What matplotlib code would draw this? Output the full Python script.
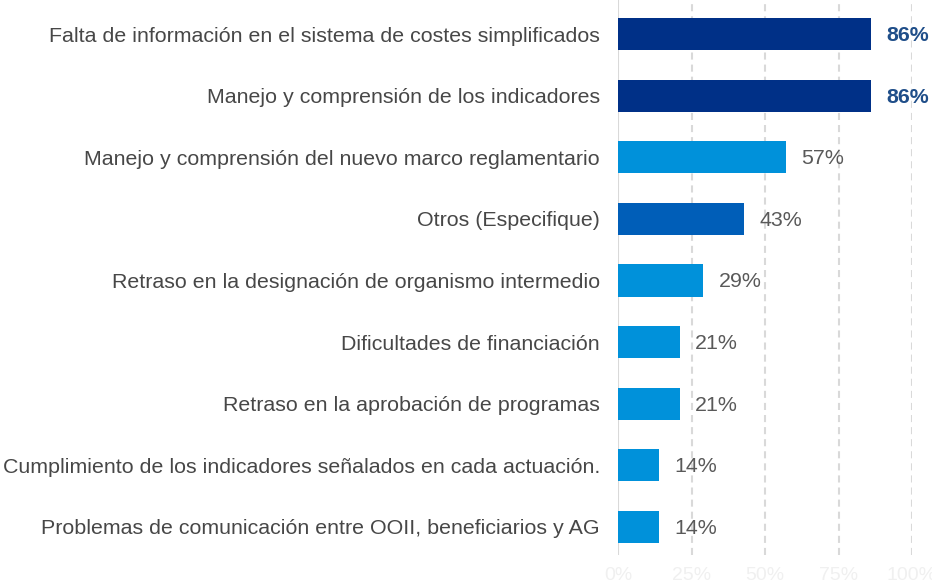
import matplotlib
matplotlib.use("Agg")
import matplotlib.pyplot as plt

categories = [
    "Falta de información en el sistema de costes simplificados",
    "Manejo y comprensión de los indicadores",
    "Manejo y comprensión del nuevo marco reglamentario",
    "Otros (Especifique)",
    "Retraso en la designación de organismo intermedio",
    "Dificultades de financiación",
    "Retraso en la aprobación de programas",
    "Cumplimiento de los indicadores señalados en cada actuación.",
    "Problemas de comunicación entre OOII, beneficiarios y AG",
]
values = [86, 86, 57, 43, 29, 21, 21, 14, 14]
bar_colors = ["#003087", "#003087", "#0091DA", "#005EB8", "#0091DA",
              "#0091DA", "#0091DA", "#0091DA", "#0091DA"]
label_bold = [True, True, False, False, False, False, False, False, False]
x_ticks = [0, 25, 50, 75, 100]
x_tick_labels = ["0%", "25%", "50%", "75%", "100%"]

plt.rcParams["font.family"] = ["Liberation Sans", "DejaVu Sans"]
FS = 15.4

fig = plt.figure(figsize=(9.32, 5.86), dpi=100)
ax = fig.add_axes([618 / 932, 1 - 555 / 586, 294 / 932, 555 / 586])

ypos = list(range(len(categories)))
ax.barh(ypos, values, height=0.52, color=bar_colors, zorder=3)

for y, v, b in zip(ypos, values, label_bold):
    ax.annotate(f"{v}%", xy=(v, y), xytext=(11, -1), textcoords="offset points",
                ha="left", va="center", fontsize=FS,
                color="#1F4E89" if b else "#595959",
                fontweight="bold" if b else "normal", zorder=4)

ax.set_xlim(0, 100)
ax.set_ylim(8.455, -0.552)
ax.set_xticks(x_ticks)
ax.set_xticklabels(x_tick_labels, fontsize=14, color="#f0f0f0")
ax.set_yticks(ypos)
ax.set_yticklabels(categories, fontsize=FS, color="#474747")
ax.tick_params(axis="both", length=0)
ax.tick_params(axis="y", pad=13)
ax.tick_params(axis="x", pad=9)

for x in x_ticks[1:]:
    ax.axvline(x, color="#d9d9d9", linewidth=1.5, linestyle=(0, (3.4, 2.4)), zorder=1)
ax.axvline(0, color="#d9d9d9", linewidth=1.5, zorder=1)

for s in ax.spines.values():
    s.set_visible(False)

fig.savefig("out.png", dpi=100)
